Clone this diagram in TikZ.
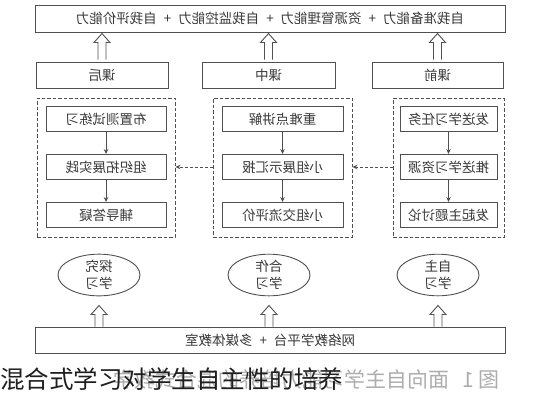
\documentclass[tikz,border=0pt]{standalone}
\usepackage{fontspec}
\usepackage{graphicx}
\newfontfamily\cjk{Noto Sans CJK SC}
\usetikzlibrary{arrows.meta,calc,shapes.geometric}
\definecolor{linegray}{HTML}{505050}
\definecolor{txtgray}{HTML}{3A3A3A}
\newcommand{\mirtxt}[1]{\scalebox{-1}[1]{#1}}
\begin{document}
\begin{tikzpicture}[x=1pt,y=-1pt,
  every node/.style={font=\cjk\fontsize{13.5}{17}\selectfont, text=txtgray, inner sep=0pt},
  box/.style={draw=linegray, line width=1pt, minimum height=26pt},
  hdrbox/.style={box, minimum width=132pt},
  dbox/.style={draw=linegray, line width=0.9pt, dash pattern=on 3.5pt off 2pt, minimum height=139pt},
  ibox/.style={box, minimum height=25pt},
  ell/.style={ellipse, draw=linegray, line width=0.9pt, minimum width=82pt, minimum height=40pt, align=center},
  tip/.style={-{Stealth[length=5pt,width=4.5pt]}, draw=linegray, line width=0.9pt},
  dtip/.style={tip, dash pattern=on 3pt off 2pt},
  pics/harrow/.style={code={
    \draw[linegray, line width=0.9pt, fill=white]
      (-4,0) -- (-4,{-#1+9}) -- (-8,{-#1+9}) -- (0,{-#1}) -- (8,{-#1+9}) -- (4,{-#1+9}) -- (4,0);}}
]
\fill[white] (0,0) rectangle (551,400);
\useasboundingbox (0,0) rectangle (551,400);

% top box
\node[box, minimum width=470pt, minimum height=27pt] (top) at (270,18.5)
  {\mirtxt{自我准备能力\hspace{7pt}+\hspace{7pt}资源管理能力\hspace{7pt}+\hspace{7pt}自我监控能力\hspace{7pt}+\hspace{7pt}自我评价能力}};

% headers
\node[hdrbox] (hL) at (102,75) {\mirtxt{课后}};
\node[hdrbox, minimum width=133pt] (hM) at (268.5,75) {\mirtxt{课中}};
\node[hdrbox, minimum width=131pt] (hR) at (437.5,75) {\mirtxt{课前}};

% hollow arrows to top
\pic at ($(hL.north)+(0,-2)$) {harrow=26};
\pic at ($(hM.north)+(0,-2)$) {harrow=26};
\pic at ($(hR.north)+(0,-2)$) {harrow=26};

% dashed groups
\node[dbox, minimum width=138pt] (dL) at (106,167.5) {};
\node[dbox, minimum width=139pt] (dM) at (282.5,167.5) {};
\node[dbox, minimum width=111pt] (dR) at (448.5,167.5) {};

% left column
\node[ibox, minimum width=120pt] (l1) at (106,119) {\mirtxt{布置测试练习}};
\node[ibox, minimum width=120pt] (l2) at (106,167) {\mirtxt{组织拓展实践}};
\node[ibox, minimum width=120pt] (l3) at (106,215) {\mirtxt{辅导答疑}};
% middle column
\node[ibox, minimum width=121pt] (m1) at (282.5,119) {\mirtxt{重难点讲解}};
\node[ibox, minimum width=121pt] (m2) at (282.5,167) {\mirtxt{小组展示汇报}};
\node[ibox, minimum width=121pt] (m3) at (282.5,215) {\mirtxt{小组交流评价}};
% right column
\node[ibox, minimum width=97pt] (r1) at (448.5,119) {\mirtxt{发送学习任务}};
\node[ibox, minimum width=97pt] (r2) at (448.5,167) {\mirtxt{推送学习资源}};
\node[ibox, minimum width=97pt] (r3) at (448.5,215) {\mirtxt{发起主题讨论}};

\draw[tip] (l1) -- (l2);
\draw[tip] (l2) -- (l3);
\draw[tip] (m1) -- (m2);
\draw[tip] (m2) -- (m3);
\draw[tip] (r1) -- (r2);
\draw[tip] (r2) -- (r3);

\draw[dtip] (dR.west |- r2) -- (dM.east |- m2);
\draw[dtip] (dM.west |- m2) -- (dL.east |- l2);

% ellipses
\node[ell] (eL) at (99,275) {\mirtxt{探究}\\\mirtxt{学习}};
\node[ell] (eM) at (269,275) {\mirtxt{合作}\\\mirtxt{学习}};
\node[ell] (eR) at (438,275) {\mirtxt{自主}\\\mirtxt{学习}};

% bottom box
\node[box, minimum width=470pt, minimum height=26pt] (bot) at (270,340)
  {\mirtxt{网络教学平台\hspace{7pt}+\hspace{7pt}多媒体教室}};

\pic at (eL.south |- bot.north) {harrow=21};
\pic at (eM.south |- bot.north) {harrow=21};
\pic at (eR.south |- bot.north) {harrow=21};

% captions
\node[anchor=east, font=\cjk\fontsize{21}{24}\selectfont, text=black!32] (capf) at (500,379)
  {\mirtxt{图\hspace{4pt}1\hspace{14pt}面向自主学习能力培养的混合式教学}};
\node[anchor=west, font=\cjk\fontsize{24.5}{27}\selectfont, text=black!88] (cap) at (0,379)
  {混合式学习对学生自主性的培养};
\end{tikzpicture}
\end{document}
